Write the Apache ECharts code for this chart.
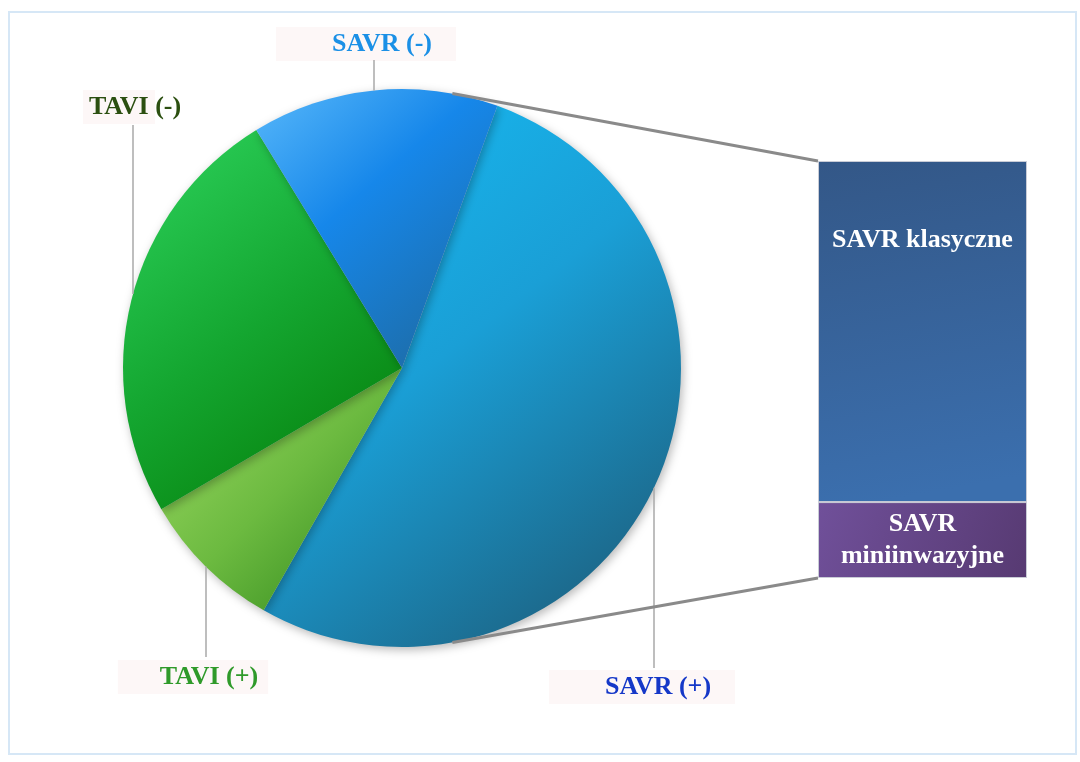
<!DOCTYPE html>
<html>
<head>
<meta charset="utf-8">
<script src="https://cdn.jsdelivr.net/npm/echarts@6/dist/echarts.min.js"></script>
<style>
  html, body { margin: 0; padding: 0; background: #ffffff; }
  #chart { width: 1080px; height: 762px; }
</style>
</head>
<body>
<div id="chart"></div>
<script>
// Share of procedures (pie) and split of SAVR (+) into techniques (bar)
const pieCategories = ['SAVR (+)', 'TAVI (+)', 'TAVI (-)', 'SAVR (-)'];
const pieValues = [52.7, 8.3, 24.7, 14.3];

const barCategories = ['SAVR miniinwazyjne', 'SAVR klasyczne'];
const barLabels = ['SAVR\nminiinwazyjne', 'SAVR klasyczne'];
const barValues = [18.2, 81.8];

// Slice gradients (light -> dark), as [offset, colour] stops
const pieGradients = [
  [[0, '#16bcf4'], [0.45, '#1a9fd6'], [1, '#1d5570']],
  [[0, '#a0dc66'], [0.5, '#6cba40'], [1, '#2b8418']],
  [[0, '#2ed45e'], [0.5, '#14a630'], [1, '#037803']],
  [[0, '#58b8fa'], [0.4, '#1687ea'], [1, '#1f6698']]
];
const labelColors = ['#1538c8', '#2f9a2a', '#2b4f10', '#1b90e6'];

const FONT = "'Liberation Serif', 'Times New Roman', serif";
const CX = 402, CY = 368, R = 279;

// Label placement and leader lines (vertical, down/up to the rim)
const labelPlaces = [
  { x: 658, y: 687, lineX: 654, lineStart: 668, side: 1 },
  { x: 209, y: 677, lineX: 206, lineStart: 657, side: 1 },
  { x: 135, y: 107, lineX: 133, lineStart: 125, side: -1 },
  { x: 382, y: 44,  lineX: 374, lineStart: 60,  side: -1 }
];

const BAR_LEFT = 818, BAR_WIDTH = 209, BAR_TOP = 161, BAR_HEIGHT = 417;
const CONNECT_ANGLE = 10.4; // degrees from vertical where the connectors leave the pie

const chart = echarts.init(document.getElementById('chart'), null, { renderer: 'canvas' });

function grad(stops) {
  return new echarts.graphic.LinearGradient(0, 0, 1, 1,
    stops.map(s => ({ offset: s[0], color: s[1] })));
}

const option = {
  backgroundColor: '#ffffff',
  animation: false,
  grid: { left: BAR_LEFT, top: BAR_TOP, width: BAR_WIDTH, height: BAR_HEIGHT },
  xAxis: { type: 'category', data: ['SAVR'], show: false },
  yAxis: { type: 'value', min: 0, max: 100, show: false },
  series: [
    {
      type: 'pie',
      center: [CX, CY],
      radius: R,
      startAngle: 70,
      clockwise: true,
      silent: true,
      data: pieCategories.map((name, i) => ({
        name, value: pieValues[i],
        itemStyle: { color: grad(pieGradients[i]) },
        label: { color: labelColors[i] }
      })),
      itemStyle: {
        shadowBlur: 10,
        shadowColor: 'rgba(0,0,0,0.28)',
        shadowOffsetX: 2,
        shadowOffsetY: 3
      },
      label: {
        show: true,
        formatter: '{b}',
        fontFamily: FONT,
        fontWeight: 'bold',
        fontSize: 26,
        overflow: 'none',
        backgroundColor: '#fdf7f7',
        padding: [4, 24, 4, 56]
      },
      labelLine: { show: false },
      labelLayout: function (p) {
        const L = labelPlaces[p.dataIndex];
        return { x: L.x - 16, y: L.y, align: 'center', verticalAlign: 'middle' };
      }
    },
    {
      type: 'bar',
      name: barCategories[0],
      stack: 'savr',
      barWidth: '100%',
      silent: true,
      data: [barValues[0]],
      itemStyle: {
        color: new echarts.graphic.LinearGradient(0, 0, 1, 1, [
          { offset: 0, color: '#70509a' }, { offset: 1, color: '#573a72' }
        ]),
        borderColor: '#c9ccd6', borderWidth: 1
      },
      label: {
        show: true, position: 'inside', formatter: barLabels[0],
        color: '#ffffff', fontFamily: FONT, fontWeight: 'bold', fontSize: 26, lineHeight: 32
      }
    },
    {
      type: 'bar',
      name: barCategories[1],
      stack: 'savr',
      barWidth: '100%',
      silent: true,
      data: [barValues[1]],
      itemStyle: {
        color: new echarts.graphic.LinearGradient(0, 0, 0.3, 1, [
          { offset: 0, color: '#335787' }, { offset: 1, color: '#3b6fae' }
        ]),
        borderColor: '#c9ccd6', borderWidth: 1
      },
      label: {
        show: true, position: ['50%', 79], align: 'center', verticalAlign: 'middle',
        formatter: barLabels[1],
        color: '#ffffff', fontFamily: FONT, fontWeight: 'bold', fontSize: 26
      }
    }
  ]
};

chart.setOption(option);

// Frame, leader lines and pie-to-bar connectors
const yTop = chart.convertToPixel({ yAxisIndex: 0 }, 100);
const yBottom = chart.convertToPixel({ yAxisIndex: 0 }, 0);
const a = CONNECT_ANGLE * Math.PI / 180;
const px = CX + R * Math.sin(a);
const pyTop = CY - R * Math.cos(a);
const pyBottom = CY + R * Math.cos(a);

const leaders = labelPlaces.map(L => {
  const edgeY = CY + L.side * Math.sqrt(R * R - (L.lineX - CX) * (L.lineX - CX));
  return {
    type: 'line', z: 5, silent: true,
    shape: { x1: L.lineX, y1: L.lineStart, x2: L.lineX, y2: edgeY },
    style: { stroke: '#a8a8a8', lineWidth: 1.5 }
  };
});

chart.setOption({
  graphic: [
    {
      type: 'rect', z: 0, silent: true,
      shape: { x: 9, y: 12, width: 1067, height: 742 },
      style: { fill: 'none', stroke: '#d6e7f6', lineWidth: 2 }
    },
    ...leaders,
    {
      type: 'line', z: 10, silent: true,
      shape: { x1: px, y1: pyTop, x2: BAR_LEFT, y2: yTop },
      style: { stroke: '#8a8a8a', lineWidth: 3 }
    },
    {
      type: 'line', z: 10, silent: true,
      shape: { x1: px, y1: pyBottom, x2: BAR_LEFT, y2: yBottom },
      style: { stroke: '#8a8a8a', lineWidth: 3 }
    }
  ]
});
</script>
</body>
</html>
